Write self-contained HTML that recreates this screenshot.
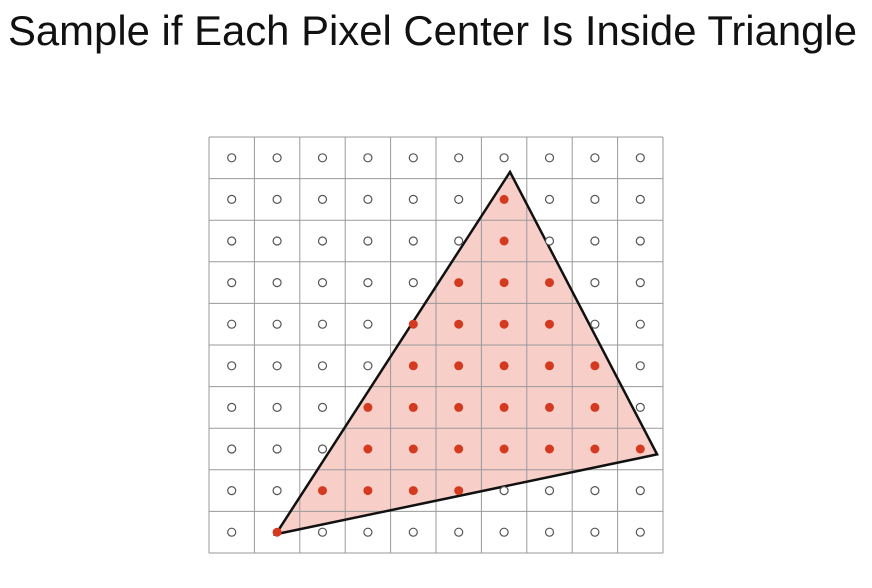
<!DOCTYPE html>
<html><head><meta charset="utf-8"><style>
html,body{margin:0;padding:0;background:#fff;}
svg{display:block;}
</style></head><body>
<svg id="chart" width="872" height="588" viewBox="0 0 872 588" xmlns="http://www.w3.org/2000/svg">
<rect width="872" height="588" fill="#fff"/>
<text x="8" y="45" font-family="Liberation Sans, sans-serif" font-size="42" font-weight="300" fill="#111" textLength="849" lengthAdjust="spacingAndGlyphs">Sample if Each Pixel Center Is Inside Triangle</text>
<g id="plot"></g>
</svg>
<script>
const cols = 10;
const rows = 10;
// inside samples per row (column indices), row 0 at top
const insideRows = [[],[6],[6],[5,6,7],[4,5,6,7],[4,5,6,7,8],[3,4,5,6,7,8],[3,4,5,6,7,8,9],[2,3,4,5],[1]];
// triangle vertices in grid units (column, row coordinates)
const triX = [6.63, 9.87, 1.47];
const triY = [0.84, 7.63, 9.55];

const x0 = 209, y0 = 137, cw = 45.4, ch = 41.6;
const sx = c => x0 + c * cw;
const sy = r => y0 + r * ch;
const NS = "http://www.w3.org/2000/svg";
const g = document.getElementById('plot');
function mk(tag, attrs){const e=document.createElementNS(NS,tag);for(const k in attrs)e.setAttribute(k,attrs[k]);g.appendChild(e);return e;}

const pts = triX.map((x,i)=>sx(x)+','+sy(triY[i])).join(' ');
const fill = mk('polygon',{points:pts,fill:'#f8cfc8',stroke:'none'});



for(let i=0;i<=cols;i++){
  const l = mk('line',{x1:sx(i),y1:sy(0),x2:sx(i),y2:sy(rows),stroke:'#999','stroke-width':1});
  
  
}
for(let j=0;j<=rows;j++){
  const l = mk('line',{x1:sx(0),y1:sy(j),x2:sx(cols),y2:sy(j),stroke:'#999','stroke-width':1});
  
  
}
const edge = mk('polygon',{points:pts,fill:'none',stroke:'#111','stroke-width':2.5,'stroke-linejoin':'miter'});



for(let r=0;r<rows;r++){
  for(let c=0;c<cols;c++){
    const inside = insideRows[r].includes(c);
    const cx = sx(c+0.5), cy = sy(r+0.5);
    let d;
    if(inside){
      d = mk('circle',{cx:cx,cy:cy,r:4.5,fill:'#d33a1f'});
      
    } else {
      d = mk('circle',{cx:cx,cy:cy,r:4,fill:'#fff',stroke:'#555','stroke-width':1.2});
      
    }
    
  }
}
</script>
</body></html>
